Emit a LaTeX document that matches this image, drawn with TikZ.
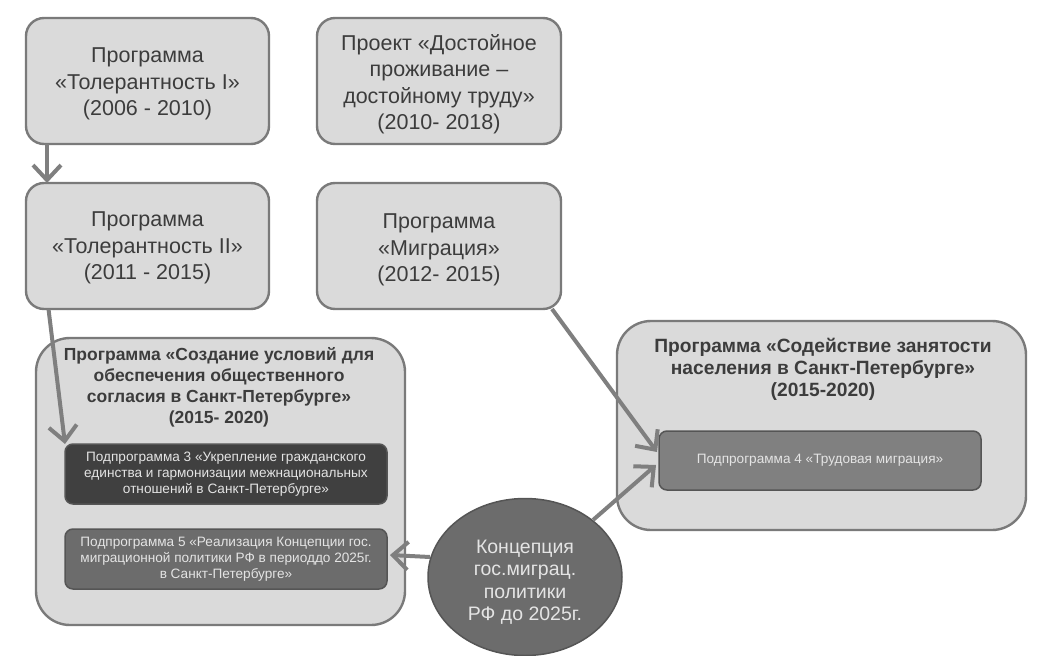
\documentclass[tikz,border=0pt]{standalone}
\usepackage{fontspec}
\setmainfont{Liberation Sans}
\usetikzlibrary{shapes.geometric,arrows.meta}
\definecolor{boxfill}{HTML}{DADADA}
\definecolor{boxline}{HTML}{7A7A7A}
\definecolor{boxtext}{HTML}{3C3C3C}
\definecolor{subA}{HTML}{404040}
\definecolor{subB}{HTML}{6C6C6C}
\definecolor{subC}{HTML}{808080}
\definecolor{subline}{HTML}{555555}
\definecolor{subtext}{HTML}{E4E4E4}
\definecolor{arrowcol}{HTML}{7F7F7F}
\tikzset{
  topbox/.style={draw=boxline, line width=2.4pt, fill=boxfill, rounded corners=18pt,
    minimum width=243pt, minimum height=126pt, inner sep=0pt},
  toptext/.style={align=center, inner sep=0pt, text=boxtext, font=\fontsize{21.5}{26.5}\selectfont},
  bigbox/.style={draw=boxline, line width=2.4pt, fill=boxfill, rounded corners=34pt, inner sep=0pt},
  titletext/.style={align=center, text=boxtext, inner sep=0pt, font=\bfseries\fontsize{17.5}{21}\selectfont},
  subbox/.style={draw=subline, line width=1.5pt, rounded corners=8pt, minimum width=322pt,
    minimum height=60pt, inner sep=0pt, align=center, text=subtext,
    font=\fontsize{13.6}{16}\selectfont},
  conc/.style={ellipse, draw=subline, line width=1.5pt, fill=subB, minimum width=194pt,
    minimum height=157pt, inner sep=0pt},
  conctext/.style={align=center, inner sep=0pt, text=subtext, font=\fontsize{19.5}{22.5}\selectfont},
  link/.style={draw=arrowcol, line width=4pt, -{Straight Barb[length=15pt,width=28pt,line width=4pt]}}
}
\begin{document}
\begin{tikzpicture}[x=1pt,y=-1pt]
\useasboundingbox (0,0) rectangle (1055,656);
% top boxes
\node[topbox] (t1) at (147.5,81) {};
\node[toptext] (t1x) at (147.5,84) {Программа\\«Толерантность I»\\(2006 - 2010)};
\node[topbox, minimum width=244pt] (t2) at (439,81) {};
\node[toptext] (t2x) at (439,84) {Проект «Достойное\\проживание –\\достойному труду»\\(2010- 2018)};
\node[topbox] (t3) at (147.5,246) {};
\node[toptext] (t3x) at (147.5,248) {Программа\\«Толерантность II»\\(2011 - 2015)};
\node[topbox, minimum width=244pt] (t4) at (439,246) {};
\node[toptext] (t4x) at (439,250) {Программа\\«Миграция»\\(2012- 2015)};
% left big box
\node[bigbox, minimum width=369pt, minimum height=287pt] (L) at (220.5,481.5) {};
\node[titletext, anchor=north] (Lt) at (219,347) {Программа «Создание условий для\\обеспечения общественного\\согласия в Санкт-Петербурге»\\(2015- 2020)};
\node[subbox, fill=subA] (s3) at (226,474) {Подпрограмма 3 «Укрепление гражданского\\единства и гармонизации межнациональных\\отношений в Санкт-Петербурге»};
\node[subbox, fill=subB] (s5) at (226,559) {Подпрограмма 5 «Реализация Концепции гос.\\миграционной политики РФ в периоддо 2025г.\\в Санкт-Петербурге»};
% right big box
\node[bigbox, minimum width=409pt, minimum height=209pt] (R) at (821.5,425.5) {};
\node[titletext, anchor=north, font=\bfseries\fontsize{19.2}{22}\selectfont] (Rt) at (823,338) {Программа «Содействие занятости\\населения в Санкт-Петербурге»\\(2015-2020)};
\node[subbox, fill=subC, minimum height=59pt] (s4) at (820,460.5) {Подпрограмма 4 «Трудовая миграция»};
% concept ellipse
\node[conc] (c) at (525,577) {};
\node[conctext] (cx) at (525,582) {Концепция\\гос.миграц.\\политики\\РФ до 2025г.};
% connectors
\coordinate (a1s) at (47,144);
\coordinate (a1e) at (47,183);
\coordinate (a2s) at (48.5,309);
\coordinate (a2e) at (65,444);
\coordinate (a3s) at (552,309);
\coordinate (a3e) at (657,452);
\coordinate (a4s) at (593,520);
\coordinate (a4e) at (656,465);
\coordinate (a5s) at (430,557);
\coordinate (a5e) at (390,555);
\draw[link] (a1s) -- (a1e);
\draw[link] (a2s) -- (a2e);
\draw[link] (a3s) -- (a3e);
\draw[link] (a4s) -- (a4e);
\draw[link] (a5s) -- (a5e);
\end{tikzpicture}
\end{document}
